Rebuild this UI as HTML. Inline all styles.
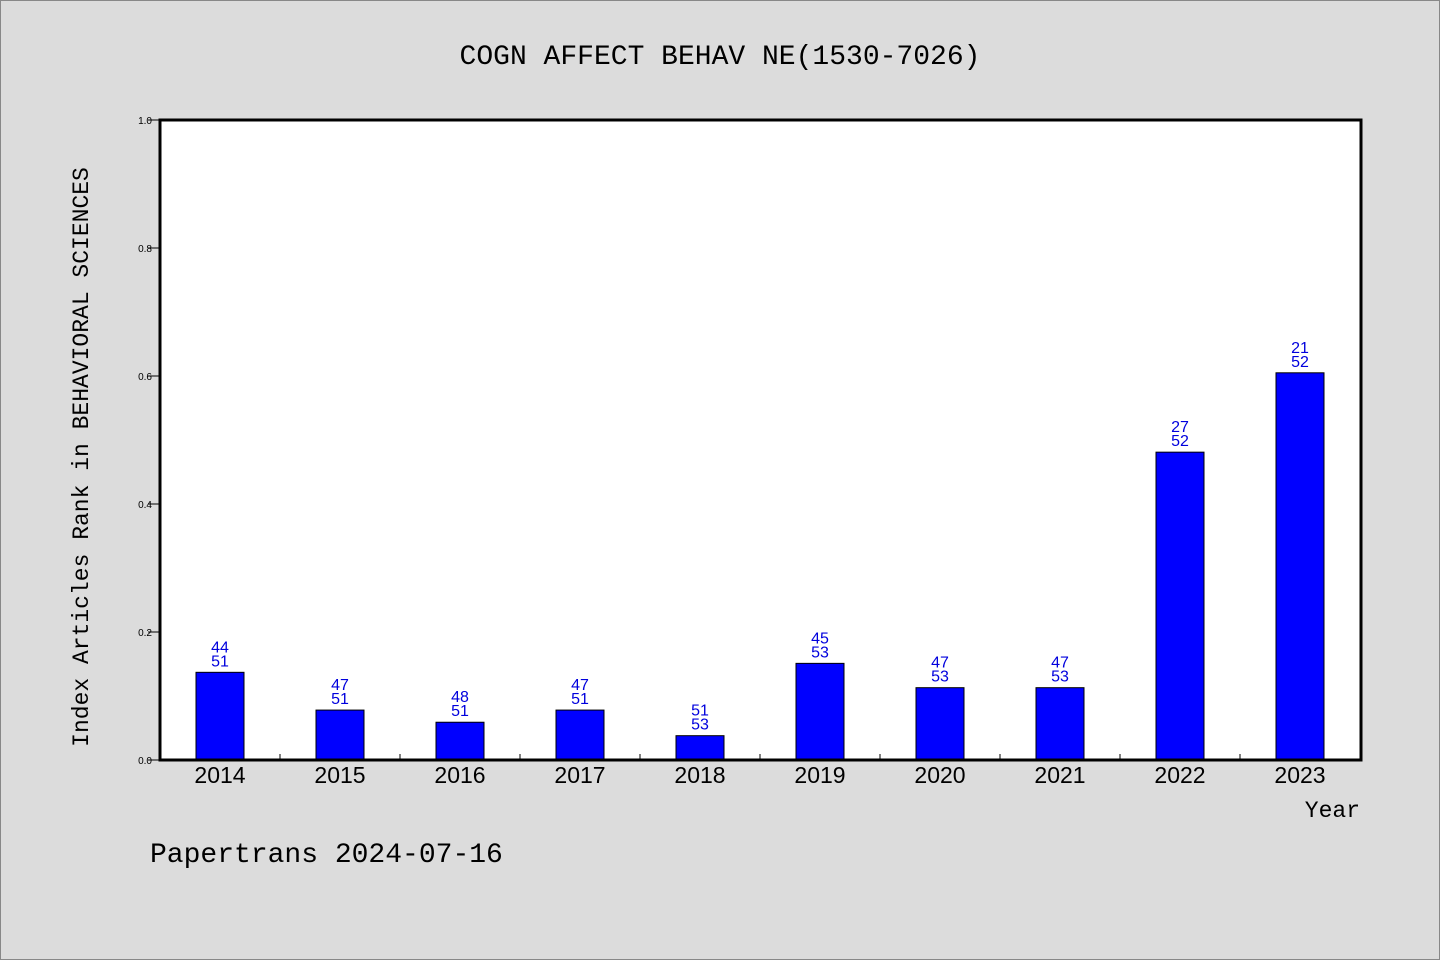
<!DOCTYPE html>
<html><head><meta charset="utf-8"><style>
html,body{margin:0;padding:0;background:#dcdcdc;}
svg{display:block;}
</style></head><body>
<svg width="1440" height="960" xmlns="http://www.w3.org/2000/svg">
<rect x="0.5" y="0.5" width="1439" height="959" fill="#dcdcdc" stroke="#888"/>
<text x="720" y="64" text-anchor="middle" font-family="'WenQuanYi Zen Hei','Liberation Mono',monospace" font-size="28" fill="#000">COGN AFFECT BEHAV NE(1530-7026)</text>
<rect x="160" y="120" width="1201" height="640" fill="#fff"/>
<g id="yaxis"></g>
<g id="bars"></g>
<g id="xaxis"></g>
<rect x="160" y="120" width="1201" height="640" fill="none" stroke="#000" stroke-width="3"/>
<text transform="translate(88,457) rotate(-90)" text-anchor="middle" font-family="'WenQuanYi Zen Hei','Liberation Mono',monospace" font-size="23" fill="#000">Index Articles Rank in BEHAVIORAL SCIENCES</text>
<text x="1360" y="817" text-anchor="end" font-family="'WenQuanYi Zen Hei','Liberation Mono',monospace" font-size="23" fill="#000">Year</text>
<text x="150" y="862" font-family="'WenQuanYi Zen Hei','Liberation Mono',monospace" font-size="28" fill="#000">Papertrans 2024-07-16</text>
</svg>
<script>
const categories = ["2014","2015","2016","2017","2018","2019","2020","2021","2022","2023"];
const values = [0.137,0.078,0.059,0.078,0.038,0.151,0.113,0.113,0.481,0.605];
const ranks = ["44","47","48","47","51","45","47","47","27","21"];
const totals = ["51","51","51","51","53","53","53","53","52","52"];
const yTicks = [0.0,0.2,0.4,0.6,0.8,1.0];
const yTickLabels = ["0.0","0.2","0.4","0.6","0.8","1.0"];

const NS="http://www.w3.org/2000/svg";
const X0=160,X1=1361,Y0=760,Y1=120,BAND=120,BW=48;
const y=v=>Y0-(v-0)/(1-0)*(Y0-Y1);
const xc=i=>X0+BAND*(i+0.5);
function mk(tag,attrs,parent,txt){const e=document.createElementNS(NS,tag);for(const k in attrs)e.setAttribute(k,attrs[k]);if(txt!==undefined)e.textContent=txt;parent.appendChild(e);return e;}
const ya=document.getElementById('yaxis'),ba=document.getElementById('bars'),xa=document.getElementById('xaxis');
yTicks.forEach((t,i)=>{
  const l=mk('line',{x1:148,x2:160,y1:y(t),y2:y(t),stroke:'#000','stroke-width':1},ya);
  
  
  const tx=mk('text',{x:152,y:y(t)+4,'text-anchor':'end','font-family':'Liberation Sans, sans-serif','font-size':10,fill:'#000'},ya,yTickLabels[i]);
  
  
});
categories.forEach((c,i)=>{
  const cx=xc(i);
  const r=mk('rect',{x:cx-BW/2,y:y(values[i]),width:BW,height:Y0-y(values[i]),fill:'#0000ff',stroke:'#000','stroke-width':1},ba);
  
  
  const t1=mk('text',{x:cx,y:y(values[i])-20,'text-anchor':'middle','font-family':'Liberation Sans, sans-serif','font-size':16,fill:'#0000dd'},ba,ranks[i]);
  
  
  const t2=mk('text',{x:cx,y:y(values[i])-6,'text-anchor':'middle','font-family':'Liberation Sans, sans-serif','font-size':16,fill:'#0000dd'},ba,totals[i]);
  
  
  const xl=mk('text',{x:cx,y:783,'text-anchor':'middle','font-family':'Liberation Sans, sans-serif','font-size':23,fill:'#000'},xa,c);
  
  
  if(i>0){
    const tk=mk('line',{x1:X0+BAND*i,x2:X0+BAND*i,y1:Y0,y2:Y0-6,stroke:'#000','stroke-width':1},xa);
    
    
  }
});
</script>
</body></html>
